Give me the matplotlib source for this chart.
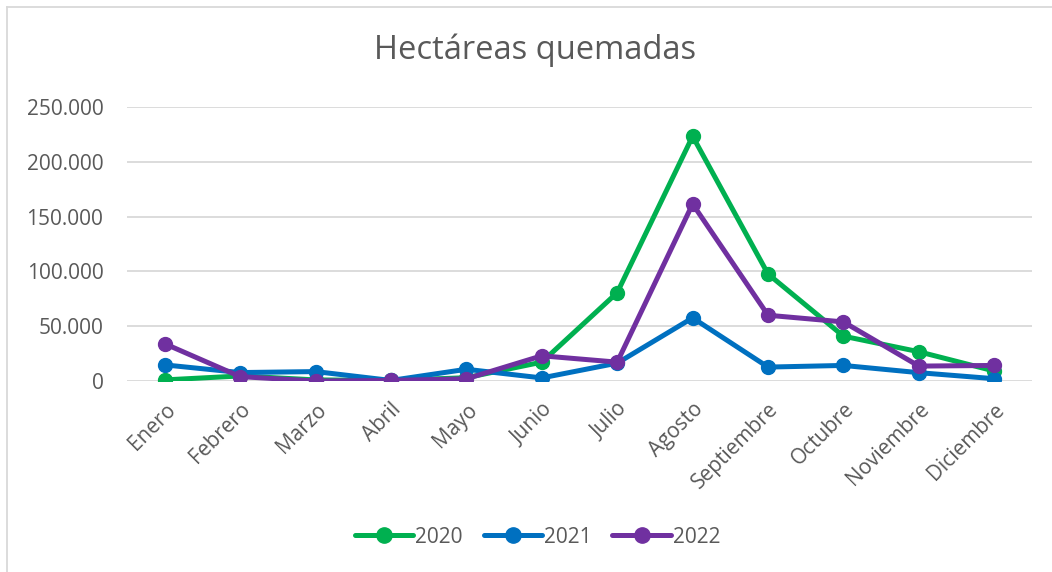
import matplotlib.pyplot as plt
import matplotlib.ticker as ticker
from matplotlib.lines import Line2D

plt.rcParams['font.family'] = ['Open Sans', 'DejaVu Sans']

meses = ['Enero', 'Febrero', 'Marzo', 'Abril', 'Mayo', 'Junio', 'Julio',
         'Agosto', 'Septiembre', 'Octubre', 'Noviembre', 'Diciembre']
ha_2020 = [1000, 4600, 1000, 500, 3000, 17200, 80600, 223300, 97600, 40900, 26700, 9100]
ha_2021 = [14700, 7700, 8600, 500, 10700, 2800, 16300, 57600, 12700, 14200, 7600, 2100]
ha_2022 = [34000, 4000, 0, 500, 2000, 23000, 17200, 161500, 60000, 53900, 13600, 14200]

series = [('2020', ha_2020, '#00B050'),
          ('2021', ha_2021, '#0070C0'),
          ('2022', ha_2022, '#7030A0')]

TXT = '#595959'
FS = 15

fig = plt.figure(figsize=(10.52, 5.72), dpi=100)
ax = fig.add_axes([127 / 1052, 1 - 381 / 572, 905 / 1052, 274 / 572])

x = range(len(meses))
for nombre, vals, col in series:
    ax.plot(x, vals, color=col, lw=3.6, marker='o', ms=10, label=nombre,
            solid_capstyle='round', solid_joinstyle='round')

ax.set_xlim(-0.5, 11.5)
ax.set_ylim(0, 250000)
ax.yaxis.set_major_locator(ticker.MultipleLocator(50000))
ax.yaxis.set_major_formatter(ticker.FuncFormatter(
    lambda v, p: '{:,.0f}'.format(v).replace(',', '.')))
ax.grid(axis='y', color='#D9D9D9', lw=1.3)
ax.set_axisbelow(True)
for s in ax.spines.values():
    s.set_visible(False)
ax.tick_params(length=0, labelsize=FS, colors=TXT)
ax.tick_params(axis='y', pad=17)
ax.set_xticks(list(x))
ax.set_xticklabels(meses, rotation=45, ha='right', rotation_mode='anchor')
ax.tick_params(axis='x', pad=13)

fig.text(535 / 1052, 1 - 59 / 572, 'Hectáreas quemadas', ha='center',
         va='baseline', fontsize=23.5, color=TXT)

handles = [Line2D([], [], color=c, lw=3.6, marker='o', ms=11,
                  solid_capstyle='round') for _, _, c in series]
fig.legend(handles, [n for n, _, _ in series], loc='center',
           bbox_to_anchor=(0.511, 0.061), ncol=3, frameon=False,
           fontsize=FS, labelcolor=TXT, handlelength=2.8, columnspacing=1.0,
           handletextpad=0.1)

# borde del gráfico
fig.add_artist(Line2D([7 / 1052, 7 / 1052], [0, 1 - 7 / 572],
                      transform=fig.transFigure, color='#D9D9D9', lw=1.3))
fig.add_artist(Line2D([7 / 1052, 1], [1 - 7 / 572, 1 - 7 / 572],
                      transform=fig.transFigure, color='#D9D9D9', lw=1.3))

fig.savefig('out.png', dpi=100)
